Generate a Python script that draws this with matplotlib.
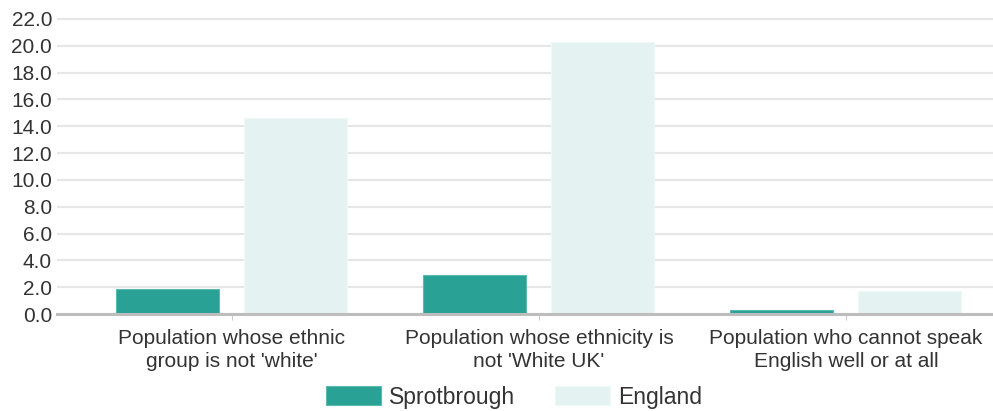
import matplotlib
matplotlib.use('Agg')
import matplotlib.pyplot as plt
import numpy as np

plt.rcParams['font.family'] = ['Liberation Sans', 'DejaVu Sans']

categories = ["Population whose ethnic\ngroup is not 'white'",
              "Population whose ethnicity is\nnot 'White UK'",
              "Population who cannot speak\nEnglish well or at all"]
sprotbrough = [1.9, 2.9, 0.3]
england = [14.6, 20.3, 1.7]
series_names = ['Sprotbrough', 'England']
y_ticks = np.arange(0, 24, 2)

teal = '#29a195'
pale = '#e4f3f2'
grid_col = '#e6e6e6'
text_col = '#333333'

fig = plt.figure(figsize=(9.93, 4.11), dpi=100)
ax = fig.add_axes([78.5 / 993, 97 / 411, 921 / 993, 295 / 411])

x = np.arange(len(categories))
w = 0.334
ax.bar(x - 0.21, sprotbrough, w, color=teal, edgecolor='#5cbab1', linewidth=0.8,
       label=series_names[0], zorder=3)
ax.bar(x + 0.207, england, w, color=pale, edgecolor='#eef8f7', linewidth=0.8,
       label=series_names[1], zorder=3)

ax.set_xlim(-0.5, 2.5)
ax.set_ylim(0, 22)
ax.set_yticks(y_ticks)
ax.set_yticklabels([f'{v:.1f}' for v in y_ticks])
ax.yaxis.grid(True, color=grid_col, linewidth=1.5, zorder=0, clip_on=False)
ax.set_axisbelow(True)
ax.tick_params(axis='y', length=15.5, width=1.5, color=grid_col, pad=3.5,
               labelsize=15, labelcolor=text_col)

ax.set_xticks(x)
ax.set_xticklabels(categories)
ax.tick_params(axis='x', length=4.5, width=0.8, color='#cccccc', pad=6,
               labelsize=15, labelcolor=text_col)
for lab in ax.get_xticklabels():
    lab.set_linespacing(1.27)

for s in ax.spines.values():
    s.set_visible(False)
ax.axhline(0, xmin=-21.5 / 921, xmax=1, color='#bdbdbd', linewidth=2.2,
           clip_on=False, zorder=4)

leg = fig.legend(loc='center', bbox_to_anchor=(514 / 993, 1 - 397 / 411), ncol=2,
                 frameon=False, fontsize=16.5, handlelength=2.4, handleheight=0.87,
                 handletextpad=0.35, columnspacing=1.75)
for t in leg.get_texts():
    t.set_color(text_col)

fig.savefig('out.png', dpi=100)
